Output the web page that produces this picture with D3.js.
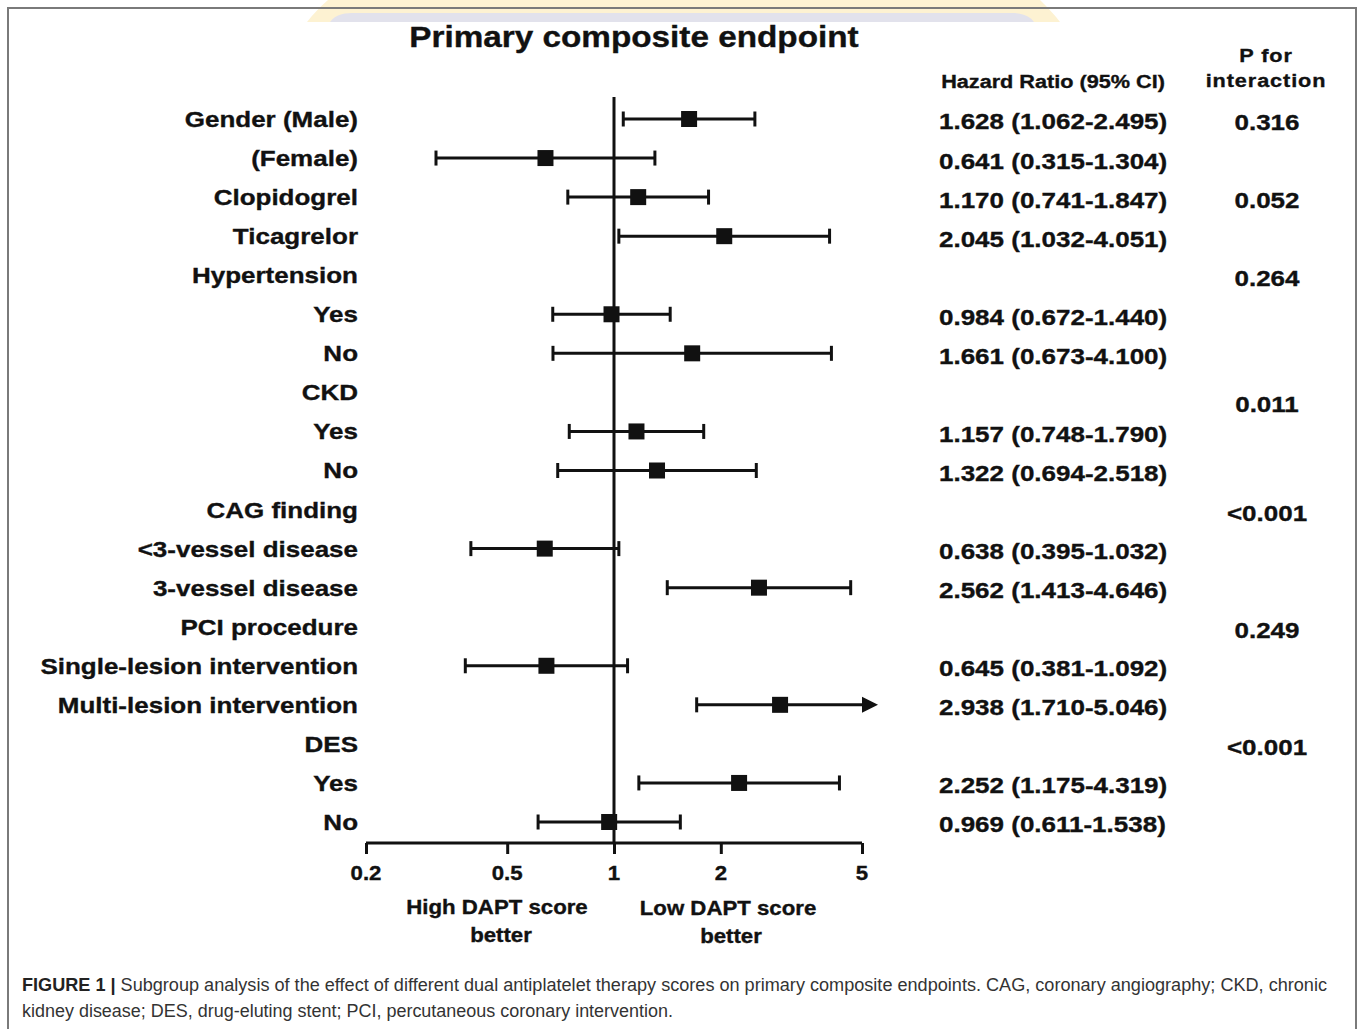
<!DOCTYPE html>
<html>
<head>
<meta charset="utf-8">
<script src="https://cdn.jsdelivr.net/npm/d3@7"></script>
<style>
  html, body { margin: 0; padding: 0; background: #fff; }
  svg { display: block; font-family: "Liberation Sans", Arial, Helvetica, sans-serif; }
</style>
</head>
<body>
<svg id="chart" width="1360" height="1029"></svg>
<script>
// Subgroup rows (top to bottom); header rows have no estimate
const labels = [
  "Gender (Male)", "(Female)", "Clopidogrel", "Ticagrelor", "Hypertension",
  "Yes", "No", "CKD", "Yes", "No", "CAG finding", "<3-vessel disease",
  "3-vessel disease", "PCI procedure", "Single-lesion intervention",
  "Multi-lesion intervention", "DES", "Yes", "No"
];
const hazardRatio = [1.628, 0.641, 1.170, 2.045, null, 0.984, 1.661, null, 1.157, 1.322, null, 0.638, 2.562, null, 0.645, 2.938, null, 2.252, 0.969];
const ciLower     = [1.062, 0.315, 0.741, 1.032, null, 0.672, 0.673, null, 0.748, 0.694, null, 0.395, 1.413, null, 0.381, 1.710, null, 1.175, 0.611];
const ciUpper     = [2.495, 1.304, 1.847, 4.051, null, 1.440, 4.100, null, 1.790, 2.518, null, 1.032, 4.646, null, 1.092, 5.046, null, 4.319, 1.538];

// P for interaction, keyed by the row it belongs to
const pRows   = [0, 2, 4, 7, 10, 13, 16];
const pValues = ["0.316", "0.052", "0.264", "0.011", "<0.001", "0.249", "<0.001"];

const tickValues = [0.2, 0.5, 1, 2, 5];
const tickLabels = ["0.2", "0.5", "1", "2", "5"];

const svg = d3.select("#chart");
const SX = 1.14; // wide rendering of the figure lettering
const ink = "#111";

// Wide text helper: anchor at (x, y), stretched horizontally
function wideText(g, x, y, str, size, anchor, opts = {}) {
  return g.append("text")
    .attr("transform", `translate(${x},${y}) scale(${opts.sx || SX},1)`)
    .attr("text-anchor", anchor)
    .attr("dy", "0.35em")
    .attr("font-size", size)
    .attr("font-weight", opts.weight || "bold")
    .attr("letter-spacing", opts.ls || 0)
    .attr("fill", ink)
    .attr("stroke", ink)
    .attr("stroke-width", 0.35)
    .text(str);
}

// Banner decoration along the top edge
const deco = svg.append("g");
deco.append("path")
  .attr("d", "M328,0 L1040,0 C1048,8 1055,15 1060,22 L307,22 C313,14 320,7 328,0 Z")
  .attr("fill", "#fdf2d2");
deco.append("path")
  .attr("d", "M330,22 C334,16 342,13 352,13 L1012,13 C1022,13 1030,16 1034,22 Z")
  .attr("fill", "#e2e2ec");

// Outer frame
svg.append("path")
  .attr("d", "M8,1040 L8,8 L1356,8 L1356,1040")
  .attr("fill", "none")
  .attr("stroke", "#7a7a7a")
  .attr("stroke-width", 2);

// Scales
const x = d3.scaleLog().domain([0.2, 5]).range([366, 862]);
const y = d3.scaleLinear().domain([0, labels.length - 1]).range([119, 822]);
const axisY = 843;

// Title
wideText(svg, 634, 37, "Primary composite endpoint", 29.2, "middle");

// Column headers
wideText(svg, 1053, 81, "Hazard Ratio (95% CI)", 19, "middle");
wideText(svg, 1266, 55, "P for", 19, "middle", { ls: 0.8 });
wideText(svg, 1266, 80, "interaction", 19, "middle", { ls: 0.8 });

// Row labels
const labelG = svg.append("g");
labels.forEach((s, i) => wideText(labelG, 358, y(i), s, 22.8, "end"));

// Reference line at HR = 1
svg.append("line")
  .attr("x1", x(1)).attr("x2", x(1))
  .attr("y1", 97).attr("y2", axisY)
  .attr("stroke", ink).attr("stroke-width", 3);

// Estimates with confidence intervals
const rows = labels.map((s, i) => ({ i, hr: hazardRatio[i], lo: ciLower[i], hi: ciUpper[i] }))
  .filter(d => d.hr != null);
const maxX = x.domain()[1];
const marks = svg.append("g").selectAll("g").data(rows).join("g")
  .attr("transform", d => `translate(0,${y(d.i)})`);

marks.append("line")
  .attr("x1", d => x(d.lo)).attr("x2", d => x(Math.min(d.hi, maxX)))
  .attr("stroke", ink).attr("stroke-width", 3);
marks.append("line")
  .attr("x1", d => x(d.lo)).attr("x2", d => x(d.lo))
  .attr("y1", -7.5).attr("y2", 7.5)
  .attr("stroke", ink).attr("stroke-width", 3);
marks.filter(d => d.hi <= maxX).append("line")
  .attr("x1", d => x(d.hi)).attr("x2", d => x(d.hi))
  .attr("y1", -7.5).attr("y2", 7.5)
  .attr("stroke", ink).attr("stroke-width", 3);
// Upper bound beyond the axis: arrowhead
marks.filter(d => d.hi > maxX).append("path")
  .attr("d", `M${x(maxX)},-8 L${x(maxX) + 16},0 L${x(maxX)},8 Z`)
  .attr("fill", ink);
marks.append("rect")
  .attr("x", d => x(d.hr) - 8).attr("y", -8)
  .attr("width", 16).attr("height", 16)
  .attr("fill", ink);

// Hazard ratio text column
const hrG = svg.append("g");
rows.forEach(d => {
  const s = `${d.hr.toFixed(3)} (${d.lo.toFixed(3)}-${d.hi.toFixed(3)})`;
  wideText(hrG, 939, y(d.i) + 2.5, s, 22.8, "start");
});

// P for interaction column
const pG = svg.append("g");
pRows.forEach((r, k) => {
  const nudge = labels[r] === "CKD" ? 12 : 3;
  wideText(pG, 1267, y(r) + nudge, pValues[k], 22.8, "middle");
});

// Log axis
const axis = d3.axisBottom(x)
  .tickValues(tickValues)
  .tickFormat((d, k) => tickLabels[k])
  .tickSize(11)
  .tickSizeOuter(0);
const axG = svg.append("g").attr("transform", `translate(0,${axisY})`).call(axis);
axG.select(".domain").attr("stroke", ink).attr("stroke-width", 3).attr("d", `M${x(0.2)},0H${x(5)}`);
axG.selectAll(".tick line").attr("stroke", ink).attr("stroke-width", 3);
axG.selectAll(".tick text").remove();
tickValues.forEach((v, k) => wideText(axG, x(v), 30, tickLabels[k], 19.5, "middle"));

// Direction labels under the axis
wideText(svg, 497, 907, "High DAPT score", 19.5, "middle");
wideText(svg, 501, 935, "better", 19.5, "middle");
wideText(svg, 728, 908, "Low DAPT score", 19.5, "middle");
wideText(svg, 731, 936, "better", 19.5, "middle");

// Caption
const cap = svg.append("g").attr("font-size", 17.5).attr("fill", "#333");
const c1 = cap.append("text").attr("x", 22).attr("y", 991)
  .attr("textLength", 1305).attr("lengthAdjust", "spacingAndGlyphs");
c1.append("tspan").attr("font-weight", "bold").attr("fill", "#222").text("FIGURE 1 | ");
c1.append("tspan").text("Subgroup analysis of the effect of different dual antiplatelet therapy scores on primary composite endpoints. CAG, coronary angiography; CKD, chronic");
cap.append("text").attr("x", 22).attr("y", 1017)
  .attr("textLength", 651).attr("lengthAdjust", "spacingAndGlyphs")
  .text("kidney disease; DES, drug-eluting stent; PCI, percutaneous coronary intervention.");
</script>
</body>
</html>
